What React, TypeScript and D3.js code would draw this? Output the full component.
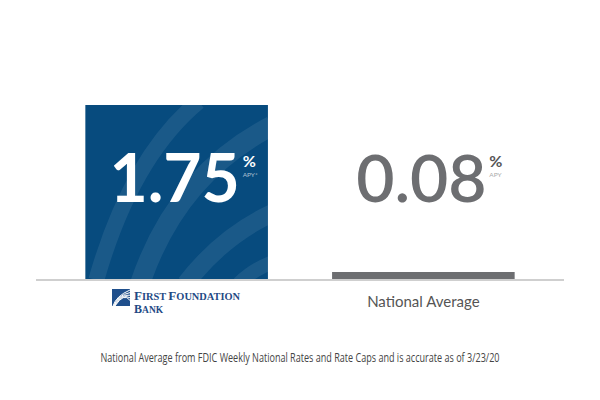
import React from "react";
import * as d3 from "d3";

const categories = ["First Foundation Bank", "National Average"];
const values = [1.75, 0.08];
const valueLabels = ["1.75", "0.08"];
const unitLabels = ["APY*", "APY"];
const footnote = "National Average from FDIC Weekly National Rates and Rate Caps and is accurate as of 3/23/20";

const W = 600;
const H = 400;
const BLUE = "#074b7e";
const GREY = "#6d6e71";

export default function App() {
  const x = d3.scaleBand<string>().domain(categories).range([36, 564]).paddingInner(0.26).paddingOuter(0.2);
  const y = d3.scaleLinear().domain([0, 1.75]).range([280, 105]);
  const bw = x.bandwidth();

  const b0x = x(categories[0])!;
  const b0y = y(values[0]);
  const b0h = y(0) - b0y;

  // decorative stripes (bar-relative)
  const stripeDefs = [
    { x0: 0.06, y0: 1.0, cx: 0.25, cy: 0.3, x1: 0.62, y1: -0.02, w: 16 },
    { x0: 0.3, y0: 1.02, cx: 0.5, cy: 0.4, x1: 1.02, y1: 0.12, w: 20 },
    { x0: 0.55, y0: 1.02, cx: 0.75, cy: 0.75, x1: 1.02, y1: 0.62, w: 18 },
    { x0: 0.84, y0: 1.02, cx: 0.92, cy: 0.94, x1: 1.02, y1: 0.9, w: 14 },
  ];

  return (
    <svg width={W} height={H} style={{ position: "absolute", left: 0, top: 0, background: "#fff" }} fontFamily="Lato, 'Open Sans', sans-serif">
      <defs>
        <clipPath id="barclip">
          <rect x={b0x} y={b0y} width={bw} height={b0h} />
        </clipPath>
      </defs>
      {/* baseline */}
      <line x1={36} x2={564} y1={y(0)} y2={y(0)} stroke="#cfcfcf" strokeWidth={2} />
      {/* bars */}
      {categories.map((c, i) => (
        <rect key={c} x={x(c)} y={y(values[i])} width={bw} height={y(0) - y(values[i]) - 1} fill={i === 0 ? BLUE : GREY} />
      ))}
      <g clipPath="url(#barclip)">
        {stripeDefs.map((s, i) => (
          <path
            key={i}
            d={`M${b0x + s.x0 * bw},${b0y + s.y0 * b0h} Q${b0x + s.cx * bw},${b0y + s.cy * b0h} ${b0x + s.x1 * bw},${b0y + s.y1 * b0h}`}
            fill="none"
            stroke="#ffffff"
            strokeOpacity={0.08}
            strokeWidth={s.w}
          />
        ))}
      </g>
      {/* value labels */}
      {categories.map((c, i) => {
        const cx = x(c)! + bw / 2 - 2;
        const base = 202;
        return (
          <g key={c + "lbl"}>
            <text x={cx} y={base} textAnchor="middle" fontSize={66} fontWeight={i === 0 ? 700 : 600} fill={i === 0 ? "#fff" : GREY}>
              {valueLabels[i]}
            </text>
            <text x={x(c)! + bw / 2 + 66} y={167} fontSize={16} fontWeight={700} fill={i === 0 ? "#fff" : "#555"}>
              %
            </text>
            <text x={x(c)! + bw / 2 + 66} y={177} fontSize={6.5} fill={i === 0 ? "rgba(255,255,255,0.65)" : "#aaa"}>
              {unitLabels[i]}
            </text>
          </g>
        );
      })}
      {/* logo for First Foundation */}
      <g>
        <rect x={112} y={289} width={18} height={17} fill="#1f4f8c" />
        {[0, 1, 2, 3, 4].map((k) => (
          <path
            key={k}
            d={`M${113 + k * 0.5},306 Q${116 + k * 2},${296 - k} ${130},${290 + k * 2.6}`}
            fill="none"
            stroke="#fff"
            strokeWidth={1}
          />
        ))}
        <text x={134} y={300} fill="#1f4a85" fontFamily="'Liberation Serif', 'DejaVu Serif', serif" fontWeight={700} fontSize={12} textLength={106} lengthAdjust="spacingAndGlyphs">
          F<tspan fontSize={9.5}>IRST</tspan>
          <tspan dx={2}>F</tspan>
          <tspan fontSize={9.5}>OUNDATION</tspan>
        </text>
        <text x={134} y={312.5} fill="#1f4a85" fontFamily="'Liberation Serif', 'DejaVu Serif', serif" fontWeight={700} fontSize={12}>
          B<tspan fontSize={9.5}>ANK</tspan>
        </text>
      </g>
      {/* National Average label */}
      <text x={x(categories[1])! + bw / 2} y={307} textAnchor="middle" fontSize={15} fill="#555">
        {categories[1]}
      </text>
      {/* footnote */}
      <text x={300} y={362} textAnchor="middle" fontSize={12.5} fill="#444" fontFamily="'Liberation Sans Narrow', 'Open Sans', sans-serif" textLength={399} lengthAdjust="spacingAndGlyphs">
        {footnote}
      </text>
    </svg>
  );
}
